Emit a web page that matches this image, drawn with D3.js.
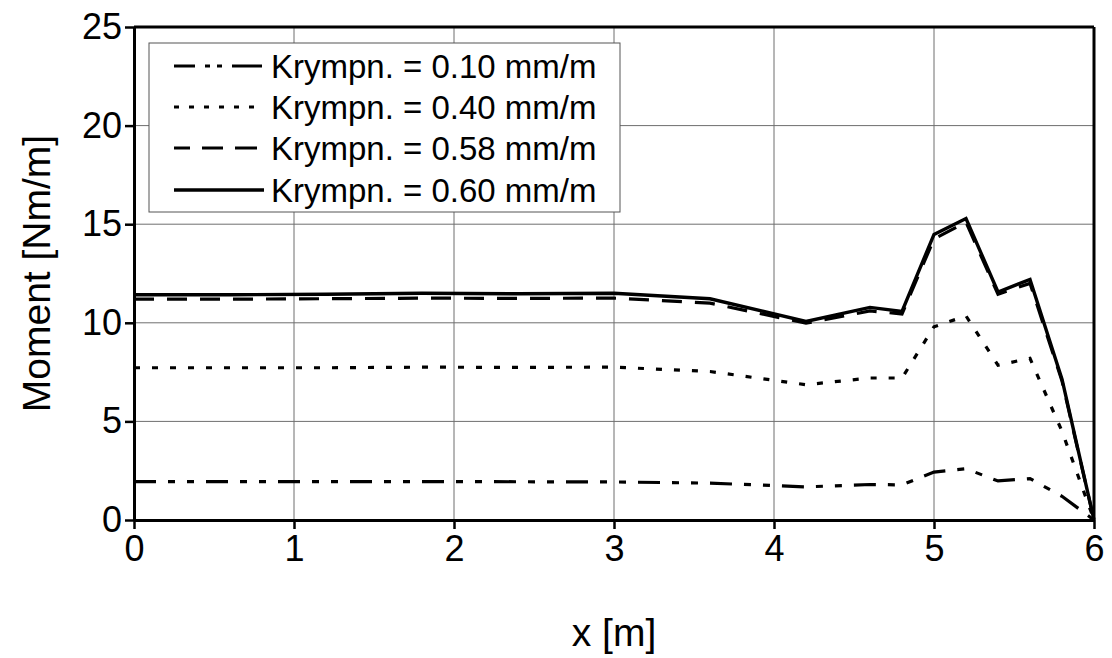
<!DOCTYPE html>
<html>
<head>
<meta charset="utf-8">
<script src="https://cdn.jsdelivr.net/npm/d3@7"></script>
<style>
  html, body { margin: 0; padding: 0; background: #fff; }
  svg { display: block; font-family: "Liberation Sans", Arial, sans-serif; }
</style>
</head>
<body>
<svg id="chart" width="1112" height="658"></svg>
<script>
// ---- data ----
const xValues = [0, 0.6, 1.2, 1.8, 2.4, 3.0, 3.6, 4.2, 4.6, 4.8, 5.0, 5.2, 5.4, 5.6, 5.8, 6.0];
const krymp010 = [1.95, 1.95, 1.95, 1.95, 1.94, 1.93, 1.87, 1.68, 1.80, 1.78, 2.43, 2.60, 1.98, 2.10, 1.20, 0];
const krymp040 = [7.72, 7.72, 7.72, 7.75, 7.74, 7.75, 7.53, 6.86, 7.20, 7.20, 9.80, 10.35, 7.85, 8.20, 4.50, 0];
const krymp058 = [11.20, 11.20, 11.22, 11.25, 11.24, 11.25, 11.00, 9.98, 10.60, 10.45, 14.25, 15.10, 11.45, 12.00, 7.05, 0];
const krymp060 = [11.42, 11.42, 11.45, 11.50, 11.47, 11.50, 11.22, 10.07, 10.78, 10.58, 14.48, 15.29, 11.56, 12.20, 7.14, 0];
const seriesNames = ["Krympn. = 0.10 mm/m", "Krympn. = 0.40 mm/m", "Krympn. = 0.58 mm/m", "Krympn. = 0.60 mm/m"];
const xTicks = [0, 1, 2, 3, 4, 5, 6];
const yTicks = [0, 5, 10, 15, 20, 25];
const xLabel = "x [m]";
const yLabel = "Moment [Nm/m]";

// ---- layout ----
const svg = d3.select("#chart");
const L = 134, R = 1094, T = 27, B = 520;
const x = d3.scaleLinear().domain([0, 6]).range([L, R]);
const y = d3.scaleLinear().domain([0, 25]).range([B, T]);

const styles = [
  { dash: "22,12,7,12,7,12", legendDash: "21,10,5,7,5,10,30", width: 3.2 },
  { dash: "6,12", legendDash: "5,10", width: 3.2 },
  { dash: "20,13", legendDash: "16,12,21,12,22", width: 3.2 },
  { dash: null, legendDash: null, width: 3.4 }
];
const seriesData = [krymp010, krymp040, krymp058, krymp060];

// gridlines
const grid = svg.append("g");
grid.selectAll("line.gy").data(yTicks.filter(d => d > 0 && d < 25)).enter().append("line")
  .attr("x1", L).attr("x2", R).attr("y1", d => y(d)).attr("y2", d => y(d))
  .attr("stroke", "#6e6e6e").attr("stroke-width", 1);
grid.selectAll("line.gx").data(xTicks.filter(d => d > 0 && d < 6)).enter().append("line")
  .attr("y1", T).attr("y2", B).attr("x1", d => x(d)).attr("x2", d => x(d))
  .attr("stroke", "#6e6e6e").attr("stroke-width", 1);

// frame top/right
svg.append("line").attr("x1", L).attr("x2", R).attr("y1", T).attr("y2", T).attr("stroke", "#000").attr("stroke-width", 3);
svg.append("line").attr("x1", R).attr("x2", R).attr("y1", T).attr("y2", B).attr("stroke", "#000").attr("stroke-width", 3);

// lines
const line = d3.line().x((d, i) => x(xValues[i])).y(d => y(d));
seriesData.forEach((s, k) => {
  svg.append("path").datum(s).attr("d", line)
    .attr("fill", "none").attr("stroke", "#000")
    .attr("stroke-width", styles[k].width)
    .attr("stroke-linejoin", "miter")
    .attr("stroke-dasharray", styles[k].dash);
});

// axes
const xAxis = d3.axisBottom(x).tickValues(xTicks).tickSizeInner(9).tickSizeOuter(0).tickPadding(6).tickFormat(d3.format("d"));
const yAxis = d3.axisLeft(y).tickValues(yTicks).tickSizeInner(9).tickSizeOuter(0).tickPadding(3).tickFormat(d3.format("d"));
const gx = svg.append("g").attr("transform", `translate(0,${B})`).call(xAxis);
const gy = svg.append("g").attr("transform", `translate(${L},0)`).call(yAxis);
[gx, gy].forEach(g => {
  g.select(".domain").attr("stroke", "#000").attr("stroke-width", 3);
  g.selectAll(".tick line").attr("stroke", "#000").attr("stroke-width", 2.5);
  g.selectAll(".tick text").attr("fill", "#000").style("font-size", "36px").style("font-family", "Liberation Sans, Arial, sans-serif");
});

// axis titles
svg.append("text").attr("x", (L + R) / 2).attr("y", 646).attr("text-anchor", "middle")
  .style("font-size", "39px").attr("fill", "#000").text(xLabel);
svg.append("text").attr("transform", `translate(50,${(T + B) / 2}) rotate(-90)`).attr("text-anchor", "middle")
  .style("font-size", "39px").attr("fill", "#000").text(yLabel);

// legend
const lg = svg.append("g");
lg.append("rect").attr("x", 149).attr("y", 43).attr("width", 471).attr("height", 169)
  .attr("fill", "#fff").attr("stroke", "#555").attr("stroke-width", 1);
const rowY = [66, 107, 148, 190];
seriesNames.forEach((name, k) => {
  lg.append("line").attr("x1", 174).attr("x2", 264).attr("y1", rowY[k]).attr("y2", rowY[k])
    .attr("stroke", "#000").attr("stroke-width", styles[k].width)
    .attr("stroke-dasharray", styles[k].legendDash);
  lg.append("text").attr("x", 271).attr("y", rowY[k]).attr("dy", "0.36em")
    .style("font-size", "33px").attr("fill", "#000").text(name);
});
</script>
</body>
</html>
